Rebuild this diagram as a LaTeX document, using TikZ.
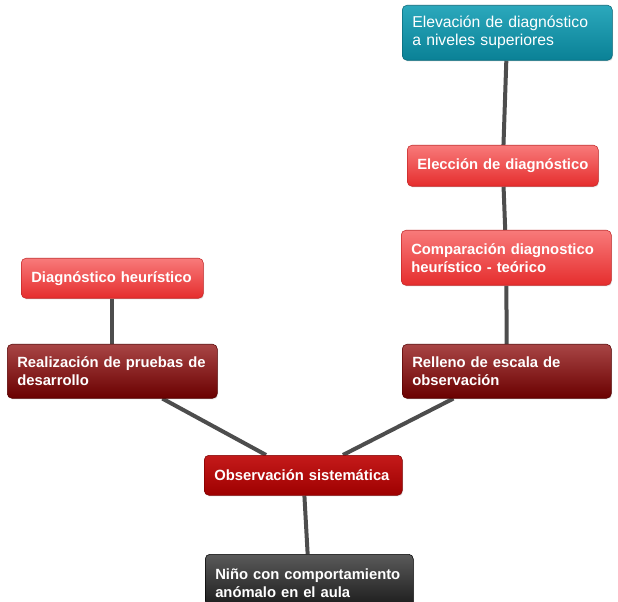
\documentclass[tikz,border=0pt]{standalone}
\usepackage{fontspec}
\setmainfont{Liberation Sans}
\usepackage{tikz}
\usetikzlibrary{shadows,backgrounds}
\definecolor{tealtop}{HTML}{2BA8BC}
\definecolor{tealbot}{HTML}{0A8196}
\definecolor{redtop}{HTML}{F87A7A}
\definecolor{redbot}{HTML}{E52D2D}
\definecolor{darktop}{HTML}{A84545}
\definecolor{darkbot}{HTML}{6A0000}
\definecolor{midtop}{HTML}{C41A1A}
\definecolor{midbot}{HTML}{9E0000}
\definecolor{blacktop}{HTML}{5A5A5A}
\definecolor{blackbot}{HTML}{151515}
\definecolor{linkgray}{HTML}{4D4D4D}
\tikzstyle{box} = [anchor=north west, rounded corners=3.5pt, inner xsep=7.5pt, inner ysep=2pt, align=left, text=white, font=\fontsize{11.1}{13.5}\selectfont\bfseries, drop shadow={opacity=0.2, shadow xshift=0.6pt, shadow yshift=-0.9pt}]
\tikzstyle{tealbox} = [box, top color=tealtop, bottom color=tealbot, draw=tealbot!80!black, font=\fontsize{11.8}{13.5}\selectfont]
\tikzstyle{redbox} = [box, top color=redtop, bottom color=redbot, draw=redbot!85!black]
\tikzstyle{darkbox} = [box, top color=darktop, bottom color=darkbot, draw=darkbot!80!black]
\tikzstyle{midbox} = [box, top color=midtop, bottom color=midbot, draw=midbot!80!black]
\tikzstyle{blackbox} = [box, top color=blacktop, bottom color=blackbot, draw=black]
\tikzstyle{link} = [draw=linkgray, line width=3pt]

\begin{document}
\begin{tikzpicture}[x=0.75pt, y=-0.75pt]
	\useasboundingbox (0,0) rectangle (618,602);
	% -------------- right branch --------------
	\node[tealbox, minimum width=157.5pt, minimum height=41.25pt, text width=142.5pt] (elevacion) at (402,5) {Elevación de diagnóstico\\a niveles superiores};
	\node[redbox, minimum width=143.25pt, minimum height=30.75pt, text width=128.25pt] (eleccion) at (407,145) {\mbox{Elección de diagnóstico}};
	\node[redbox, minimum width=157.5pt, minimum height=41.25pt, text width=142.5pt] (comparacion) at (401,230) {Comparación diagnostico\\heurístico - teórico};
	\node[darkbox, minimum width=156.75pt, minimum height=40.5pt, text width=141.75pt] (relleno) at (402,344) {Relleno de escala de\\observación};
	% -------------- left branch --------------
	\node[redbox, minimum width=136.5pt, minimum height=30pt, text width=121.5pt] (heuristico) at (21,258) {Diagnóstico heurístico};
	\node[darkbox, minimum width=157.5pt, minimum height=40.5pt, text width=142.5pt] (realizacion) at (7,344) {Realización de pruebas de\\desarrollo};
	% -------------- trunk --------------
	\node[midbox, minimum width=148.5pt, minimum height=30pt, text width=133.5pt] (observacion) at (204,455) {Observación sistemática};
	\node[blackbox, minimum width=156pt, minimum height=43.5pt, text width=141pt] (nino) at (205,554) {Niño con comportamiento\\anómalo en el aula};
	% -------------- links --------------
	\begin{scope}[on background layer]
		\fill[white] (0,0) rectangle (618,602);
		\draw[link] (elevacion) -- (eleccion);
		\draw[link] (eleccion) -- (comparacion);
		\draw[link] (comparacion) -- (relleno);
		\draw[link] (relleno) -- (observacion);
		\draw[link] (heuristico) -- (realizacion);
		\draw[link] (realizacion) -- (observacion);
		\draw[link] (observacion) -- (nino);
	\end{scope}
\end{tikzpicture}
\end{document}
